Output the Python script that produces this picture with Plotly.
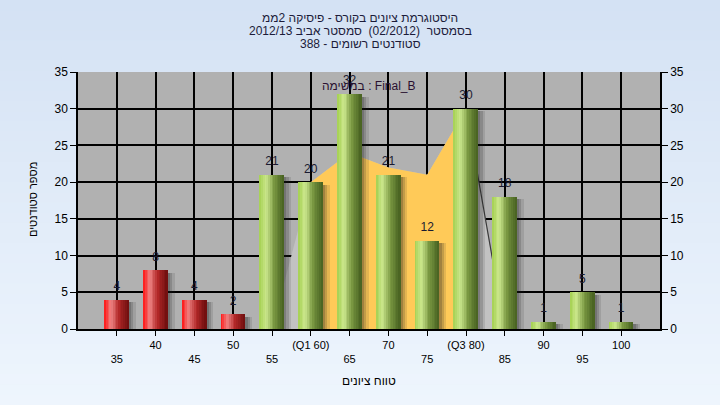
import plotly.graph_objects as go

# ---- data ----
grades = [35, 40, 45, 50, 55, 60, 65, 70, 75, 80, 85, 90, 95, 100]
tick_labels = ["35", "40", "45", "50", "55", "(Q1 60)", "65", "70", "75", "(Q3 80)", "85", "90", "95", "100"]
students = [4, 8, 4, 2, 21, 20, 32, 21, 12, 30, 18, 1, 5, 1]
area_grades = [55, 60, 65, 70, 75, 80, 85]
area_values = [0, 20, 24, 22, 21, 30, 0]
pass_grade = 55

title_lines = [
    "היסטוגרמת ציונים בקורס - פיסיקה 2ממ",
    "בסמסטר  (02/2012)  סמסטר אביב 2012/13",
    "סטודנטים רשומים - 388",
]
legend_text = "במשימה : Final_B"
x_title = "טווח ציונים"
y_title = "מספר סטודנטים"

# ---- layout geometry ----
W, H = 720, 405
L, R, T, B = 78, 60, 72, 76
PW, PH = W - L - R, H - T - B
FONT = "Arial, Liberation Sans, sans-serif"


def py(Y):
    return (H - B - Y) / PH


def px(X):
    return (X - L) / PW


def lerp_color(stops, t):
    for (p0, c0), (p1, c1) in zip(stops, stops[1:]):
        if p0 <= t <= p1:
            f = (t - p0) / (p1 - p0) if p1 > p0 else 0
            c = [round(a + (b - a) * f) for a, b in zip(c0, c1)]
            return "rgb(%d,%d,%d)" % tuple(c)
    return "rgb(%d,%d,%d)" % stops[-1][1]


green_stops = [(0, (164, 208, 80)), (0.28, (204, 232, 142)), (0.6, (122, 152, 66)), (1.0, (70, 96, 32))]
red_stops = [(0, (255, 18, 18)), (0.28, (238, 132, 132)), (0.6, (178, 40, 40)), (1.0, (110, 14, 14))]

fig = go.Figure()

# area (main subplot, drawn underneath the bar subplot)
fig.add_trace(go.Scatter(
    x=area_grades, y=area_values, mode="lines", fill="tozeroy",
    fillcolor="#c2c2c2", line=dict(width=0, color="#c2c2c2"),
    hoverinfo="skip", showlegend=False))
core = [i for i, g in enumerate(area_grades) if 60 <= g <= 80]
fig.add_trace(go.Scatter(
    x=[area_grades[i] for i in core], y=[area_values[i] for i in core],
    mode="lines", fill="tozeroy", fillcolor="#ffca58",
    line=dict(width=0, color="#ffca58"), hoverinfo="skip", showlegend=False))
tail = [i for i, g in enumerate(area_grades) if g >= 80]
fig.add_trace(go.Scatter(
    x=[area_grades[i] for i in tail], y=[area_values[i] for i in tail],
    mode="lines", line=dict(width=1.2, color="#3a3a3a"),
    hoverinfo="skip", showlegend=False))

BW = 3.1  # bar width in data units

# shadows (overlay subplot)
for k, (dx, a) in enumerate([(0.3, 0.2), (0.6, 0.17), (0.9, 0.12)]):
    fig.add_trace(go.Bar(
        x=grades, y=[v - 0.35 for v in students], width=BW, offset=-BW / 2 + dx, yaxis="y2",
        marker=dict(color="rgba(30,30,30,%.2f)" % a, line=dict(width=0)),
        hoverinfo="skip", showlegend=False))

# gradient bars as vertical strips
N = 14
for k in range(N):
    t = (k + 0.5) / N
    cols = [lerp_color(red_stops if g < pass_grade else green_stops, t) for g in grades]
    fig.add_trace(go.Bar(
        x=grades, y=students, width=BW / N * 1.08, offset=-BW / 2 + k * BW / N, yaxis="y2",
        marker=dict(color=cols, line=dict(width=0)),
        hoverinfo="skip", showlegend=False))

# value labels
fig.add_trace(go.Scatter(
    x=grades, y=students, mode="markers+text", text=[str(v) for v in students], yaxis="y2",
    marker=dict(size=9, opacity=0),
    textposition="top center", textfont=dict(family=FONT, size=12, color="#1a1a30"),
    hoverinfo="skip", showlegend=False, cliponaxis=False))

# staggered tick labels
ticktext = [("&nbsp;<br>" + t) if i % 2 == 0 else t for i, t in enumerate(tick_labels)]

# background gradient bands
shapes = []
nb = 40
y0p, y1p = py(H), py(0)
for i in range(nb):
    f = i / (nb - 1)
    c0, c1 = (238, 245, 253), (212, 226, 244)
    c = tuple(round(a + (b - a) * f) for a, b in zip(c0, c1))
    shapes.append(dict(type="rect", xref="paper", yref="paper", layer="below",
                       x0=px(0), x1=px(W), y0=y0p + (y1p - y0p) * i / nb,
                       y1=y0p + (y1p - y0p) * (i + 1) / nb + 0.002,
                       fillcolor="rgb(%d,%d,%d)" % c, line=dict(width=0)))
shapes.append(dict(type="rect", xref="paper", yref="paper", layer="below",
                   x0=0, x1=1, y0=0, y1=1, fillcolor="#b1b1b1", line=dict(width=0)))

annotations = []
for i, line in enumerate(title_lines):
    annotations.append(dict(text=line, xref="paper", yref="paper", x=px(360), y=py(18 + 13 * i),
                            xanchor="center", yanchor="middle", showarrow=False,
                            font=dict(family=FONT, size=12, color="#1c1c3a")))
annotations.append(dict(text=legend_text, xref="paper", yref="paper", x=px(369), y=py(86),
                        xanchor="center", yanchor="middle", showarrow=False,
                        font=dict(family=FONT, size=12, color="#2a1030")))
annotations.append(dict(text=x_title, xref="paper", yref="paper", x=px(369), y=py(381),
                        xanchor="center", yanchor="middle", showarrow=False,
                        font=dict(family=FONT, size=12, color="#000000")))
annotations.append(dict(text=y_title, xref="paper", yref="paper", x=px(33), y=py(200),
                        xanchor="center", yanchor="middle", showarrow=False, textangle=-90,
                        font=dict(family=FONT, size=11, color="#000000")))

fig.update_layout(
    width=W, height=H, margin=dict(l=L, r=R, t=T, b=B, pad=0),
    paper_bgcolor="#e2ecf8", plot_bgcolor="rgba(0,0,0,0)",
    barmode="overlay", bargap=0, showlegend=False,
    shapes=shapes, annotations=annotations,
    font=dict(family=FONT, size=12, color="#000000"),
    xaxis=dict(range=[30, 105], tickmode="array", tickvals=grades, ticktext=ticktext,
               showgrid=True, gridcolor="#000000", gridwidth=1.5,
               ticks="outside", ticklen=5, tickcolor="#000000", tickangle=0,
               showline=True, linecolor="#000000", linewidth=1.5,
               tickfont=dict(family=FONT, size=11, color="#000000"), zeroline=False,
               fixedrange=True),
    yaxis=dict(range=[0, 35], tickmode="linear", tick0=0, dtick=5,
               showgrid=True, gridcolor="#000000", gridwidth=1.5,
               ticks="outside", ticklen=6, tickcolor="#000000",
               showline=True, linecolor="#000000", linewidth=1.5, zeroline=False,
               tickfont=dict(family=FONT, size=12, color="#000000")),
    yaxis2=dict(range=[0, 35], overlaying="y", side="right", tickmode="linear", tick0=0, dtick=5,
                showgrid=False, ticks="outside", ticklen=6, tickcolor="#000000",
                showline=True, linecolor="#000000", linewidth=1.5, zeroline=False,
                tickfont=dict(family=FONT, size=12, color="#000000")),
)

fig.write_html("out.html", config={"displayModeBar": False},
               post_script="document.body.style.margin='0px';")
